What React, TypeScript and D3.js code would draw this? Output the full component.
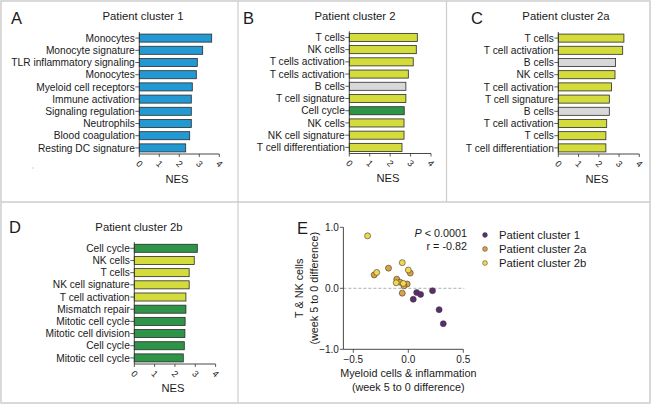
import React from "react";
import * as d3 from "d3";

// ---------- data ----------
const aLabels = ["Monocytes", "Monocyte signature", "TLR inflammatory signaling", "Monocytes", "Myeloid cell receptors", "Immune activation", "Signaling regulation", "Neutrophils", "Blood coagulation", "Resting DC signature"];
const aValues = [3.62, 3.17, 2.9, 2.85, 2.65, 2.6, 2.6, 2.6, 2.52, 2.32];
const aGroups = ["myeloid", "myeloid", "myeloid", "myeloid", "myeloid", "myeloid", "myeloid", "myeloid", "myeloid", "myeloid"];

const bLabels = ["T cells", "NK cells", "T cells activation", "T cells activation", "B cells", "T cell signature", "Cell cycle", "NK cells", "NK cell signature", "T cell differentiation"];
const bValues = [3.33, 3.28, 3.13, 2.89, 2.77, 2.77, 2.69, 2.68, 2.68, 2.58];
const bGroups = ["tnk", "tnk", "tnk", "tnk", "b", "tnk", "cycle", "tnk", "tnk", "tnk"];

const cLabels = ["T cells", "T cell activation", "B cells", "NK cells", "T cell activation", "T cell signature", "B cells", "T cell activation", "T cells", "T cell differentiation"];
const cValues = [3.24, 3.18, 2.83, 2.8, 2.63, 2.52, 2.52, 2.39, 2.35, 2.35];
const cGroups = ["tnk", "tnk", "b", "tnk", "tnk", "tnk", "b", "tnk", "tnk", "tnk"];

const dLabels = ["Cell cycle", "NK cells", "T cells", "NK cell signature", "T cell activation", "Mismatch repair", "Mitotic cell cycle", "Mitotic cell division", "Cell cycle", "Mitotic cell cycle"];
const dValues = [3.1, 2.95, 2.7, 2.7, 2.54, 2.54, 2.5, 2.49, 2.46, 2.41];
const dGroups = ["cycle", "tnk", "tnk", "tnk", "tnk", "cycle", "cycle", "cycle", "cycle", "cycle"];

const nesTicks = [0, 1, 2, 3, 4];

const c1X = [0.076, 0.112, 0.045, 0.22, 0.28, 0.318];
const c1Y = [-0.07, -0.1, -0.18, -0.04, -0.35, -0.58];
const c2aX = [-0.31, -0.18, -0.105, -0.075, 0.018, -0.01, -0.055, -0.04];
const c2aY = [0.22, 0.33, 0.15, 0.1, 0.25, 0.07, -0.08, 0.04];
const c2bX = [-0.37, -0.287, -0.055, 0.0, -0.11, -0.045];
const c2bY = [0.86, 0.26, 0.42, 0.3, 0.09, 0.08];

const eXTicks = [-0.5, 0.0, 0.5];
const eYTicks = [1.0, 0.0, -1.0];
const legendLabels = ["Patient cluster 1", "Patient cluster 2a", "Patient cluster 2b"];

// ---------- styles ----------
const FONT = "'Liberation Sans', Arial, sans-serif";
const groupColor: Record<string, string> = {
  myeloid: "#2299d2",
  tnk: "#d3dc3a",
  b: "#d8d8d8",
  cycle: "#2e9447",
};
const clusterColors = ["#5b2c6f", "#dea13e", "#f3d64a"];

type BarPanelProps = {
  letter: string;
  letterX: number;
  letterY: number;
  title: string;
  titleX: number;
  titleY: number;
  labels: string[];
  values: number[];
  groups: string[];
  axisX: number;
  axisW: number;
  yTop: number;
  yBottom: number;
  nesX: number;
  nesY: number;
};

function BarPanel(p: BarPanelProps) {
  const x = d3.scaleLinear().domain([0, 4]).range([p.axisX, p.axisX + p.axisW]);
  const y = d3
    .scaleBand<number>()
    .domain(p.labels.map((_, i) => i))
    .range([p.yTop, p.yBottom])
    .paddingInner(0.34)
    .paddingOuter(0.17);
  return (
    <g fontFamily={FONT} fill="#1a1a1a">
      <text x={p.letterX} y={p.letterY} fontSize={16.5}>{p.letter}</text>
      <text x={p.titleX} y={p.titleY} fontSize={11.3} textAnchor="middle">{p.title}</text>
      {p.values.map((v, i) => (
        <rect
          key={i}
          x={x(0)}
          y={y(i)!}
          width={x(v) - x(0)}
          height={y.bandwidth()}
          fill={groupColor[p.groups[i]]}
          stroke="#2b2b2b"
          strokeWidth={0.8}
        />
      ))}
      {p.labels.map((l, i) => {
        const cy = y(i)! + y.bandwidth() / 2;
        return (
          <g key={i}>
            <line x1={x(0) - 4} x2={x(0)} y1={cy} y2={cy} stroke="#333" strokeWidth={0.8} />
            <text x={x(0) - 4.5} y={cy + 3.6} fontSize={10.2} textAnchor="end">{l}</text>
          </g>
        );
      })}
      <line x1={x(0)} x2={x(0)} y1={p.yTop} y2={p.yBottom} stroke="#333" strokeWidth={0.9} />
      <line x1={x(0)} x2={x(4)} y1={p.yBottom} y2={p.yBottom} stroke="#333" strokeWidth={0.9} />
      {nesTicks.map((t) => (
        <g key={t}>
          <line x1={x(t)} x2={x(t)} y1={p.yBottom} y2={p.yBottom + 3} stroke="#333" strokeWidth={0.8} />
          <text
            transform={`translate(${x(t)},${p.yBottom + 10}) rotate(45)`}
            fontSize={9}
            textAnchor="middle"
            dominantBaseline="central"
          >
            {t}
          </text>
        </g>
      ))}
      <text x={p.nesX} y={p.nesY} fontSize={11.2} textAnchor="middle">NES</text>
    </g>
  );
}

function ScatterPanel() {
  const x = d3.scaleLinear().domain([0, 0.5]).range([408.3, 463.3]);
  const y = d3.scaleLinear().domain([0, 1]).range([288.3, 227.3]);
  const xLeft = x(-0.59);
  const yBottom = y(-1);
  const yTop = y(1);
  const series = [
    { xs: c1X, ys: c1Y, color: clusterColors[0] },
    { xs: c2aX, ys: c2aY, color: clusterColors[1] },
    { xs: c2bX, ys: c2bY, color: clusterColors[2] },
  ];
  return (
    <g fontFamily={FONT} fill="#1a1a1a">
      <text x={297} y={234} fontSize={16.5}>E</text>
      <line x1={xLeft} x2={x(0.5) + 1} y1={y(0)} y2={y(0)} stroke="#9a9a9a" strokeWidth={0.8} strokeDasharray="3,2" />
      <line x1={xLeft} x2={xLeft} y1={yTop} y2={yBottom} stroke="#333" strokeWidth={0.9} />
      <line x1={xLeft} x2={x(0.5)} y1={yBottom} y2={yBottom} stroke="#333" strokeWidth={0.9} />
      {eYTicks.map((t) => (
        <g key={t}>
          <line x1={xLeft - 3.5} x2={xLeft} y1={y(t)} y2={y(t)} stroke="#333" strokeWidth={0.8} />
          <text x={xLeft - 4.5} y={y(t) + 3.5} fontSize={10} textAnchor="end">{d3.format(".1f")(t)}</text>
        </g>
      ))}
      {eXTicks.map((t) => (
        <g key={t}>
          <line x1={x(t)} x2={x(t)} y1={yBottom} y2={yBottom + 3.5} stroke="#333" strokeWidth={0.8} />
          <text x={x(t)} y={yBottom + 14} fontSize={10} textAnchor="middle">{t === 0 ? "0.0" : d3.format(".1f")(t)}</text>
        </g>
      ))}
      {series.map((s, si) =>
        s.xs.map((v, i) => (
          <circle key={`${si}-${i}`} cx={x(v)} cy={y(s.ys[i])} r={3} fill={s.color} stroke="#3a3a3a" strokeWidth={0.6} />
        ))
      )}
      <text x={x(0)} y={377} fontSize={10.8} textAnchor="middle">Myeloid cells &amp; inflammation</text>
      <text x={x(0)} y={391} fontSize={10.8} textAnchor="middle">(week 5 to 0 difference)</text>
      <text transform={`translate(303,${y(0)}) rotate(-90)`} fontSize={10.8} textAnchor="middle">T &amp; NK cells</text>
      <text transform={`translate(318,${y(0)}) rotate(-90)`} fontSize={10.8} textAnchor="middle">(week 5 to 0 difference)</text>
      <text x={467} y={237} fontSize={10.8} textAnchor="end">
        <tspan fontStyle="italic">P</tspan> &lt; 0.0001
      </text>
      <text x={467} y={250} fontSize={10.8} textAnchor="end">r = -0.82</text>
      {legendLabels.map((l, i) => (
        <g key={l}>
          <circle cx={485} cy={235 + i * 14} r={2.4} fill={clusterColors[i]} stroke="#3a3a3a" strokeWidth={0.5} />
          <text x={499} y={239 + i * 14} fontSize={11.3}>{l}</text>
        </g>
      ))}
    </g>
  );
}

export default function App() {
  const border = "#cdcdcd";
  return (
    <svg width={652} height={406} style={{ position: "absolute", left: 0, top: 0, background: "#fff" }}>
      <rect x={0} y={0} width={652} height={406} fill="#fff" />
      <rect x={1} y={1} width={649} height={402} fill="none" stroke={border} strokeWidth={1.5} />
      <line x1={238} x2={238} y1={1} y2={403} stroke={border} strokeWidth={1.2} />
      <line x1={446.5} x2={446.5} y1={1} y2={202} stroke={border} strokeWidth={1.2} />
      <line x1={1} x2={650} y1={202} y2={202} stroke={border} strokeWidth={1.5} />
      <line x1={32} x2={34} y1={168} y2={168} stroke="#bbb" strokeWidth={0.8} />
      <BarPanel letter="A" letterX={11} letterY={24} title="Patient cluster 1" titleX={143} titleY={20}
        labels={aLabels} values={aValues} groups={aGroups} axisX={139.3} axisW={80} yTop={32} yBottom={154} nesX={177} nesY={183} />
      <BarPanel letter="B" letterX={243} letterY={24} title="Patient cluster 2" titleX={355} titleY={20}
        labels={bLabels} values={bValues} groups={bGroups} axisX={349.3} axisW={81.7} yTop={31.3} yBottom={153.5} nesX={388} nesY={182} />
      <BarPanel letter="C" letterX={471} letterY={24} title="Patient cluster 2a" titleX={566} titleY={20}
        labels={cLabels} values={cValues} groups={cGroups} axisX={558.3} axisW={81} yTop={32} yBottom={154} nesX={597} nesY={183} />
      <BarPanel letter="D" letterX={9} letterY={233} title="Patient cluster 2b" titleX={139} titleY={231}
        labels={dLabels} values={dValues} groups={dGroups} axisX={134.3} axisW={81.3} yTop={242.2} yBottom={364} nesX={173} nesY={392} />
      <ScatterPanel />
    </svg>
  );
}
